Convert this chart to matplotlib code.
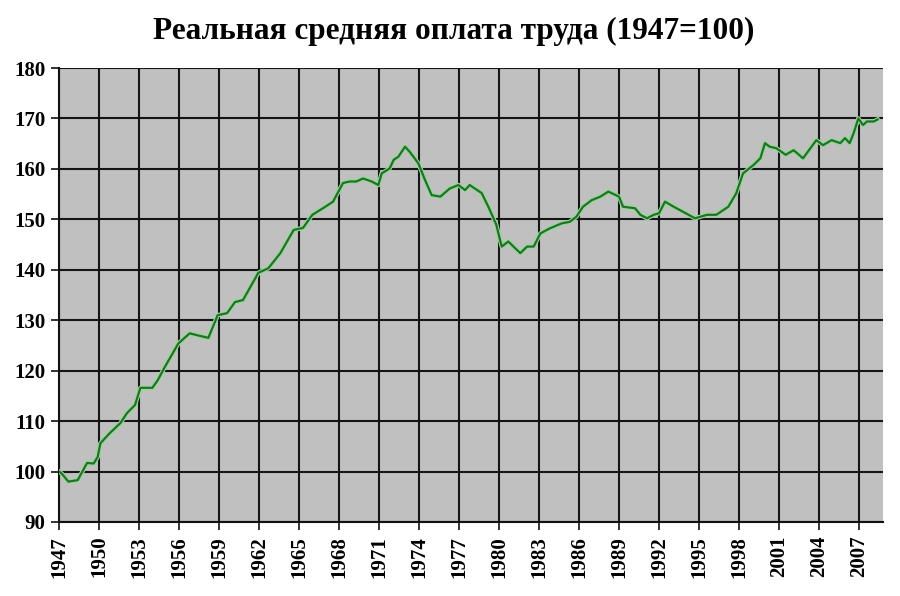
import matplotlib.pyplot as plt

# approximate readings
years = [1947.0, 1947.2, 1947.7, 1948.4, 1949.1, 1949.6, 1949.9, 1950.1, 1950.8,
         1951.6, 1952.1, 1952.7, 1953.1, 1954.0, 1954.4, 1954.95, 1955.95, 1956.8,
         1957.4, 1958.2, 1958.9, 1959.6, 1960.2, 1960.8, 1961.95, 1962.7, 1963.6,
         1964.6, 1965.3, 1966.0, 1966.8, 1967.55, 1968.3, 1968.8, 1969.3, 1969.8,
         1970.45, 1970.95, 1971.2, 1971.8, 1972.1, 1972.45, 1972.95, 1973.3,
         1973.95, 1974.45, 1974.95, 1975.6, 1976.3, 1976.95, 1977.45, 1977.8,
         1978.7, 1979.2, 1979.8, 1980.2, 1980.7, 1981.2, 1981.6, 1982.1, 1982.6,
         1983.1, 1983.8, 1984.7, 1985.3, 1985.8, 1986.3, 1986.95, 1987.6, 1988.2,
         1989.0, 1989.3, 1990.2, 1990.6, 1991.1, 1991.6, 1992.0, 1992.45, 1993.1,
         1993.8, 1994.7, 1995.6, 1996.3, 1997.2, 1997.8, 1998.3, 1999.1, 1999.6,
         1999.95, 2000.3, 2000.8, 2001.5, 2002.1, 2002.8, 2003.8, 2004.3, 2004.95,
         2005.6, 2005.95, 2006.3, 2006.6, 2006.95, 2007.3, 2007.6, 2008.1, 2008.4]
wages = [100.0, 99.6, 98.0, 98.3, 101.7, 101.6, 102.9, 105.6, 107.6,
         109.6, 111.6, 113.2, 116.6, 116.6, 118.1, 120.8, 125.4, 127.4,
         127.0, 126.5, 131.0, 131.4, 133.6, 134.0, 139.4, 140.3, 143.3,
         147.9, 148.3, 150.9, 152.2, 153.5, 157.2, 157.5, 157.5, 158.1,
         157.5, 156.8, 159.1, 160.1, 161.8, 162.4, 164.4, 163.4,
         161.1, 157.8, 154.8, 154.5, 156.1, 156.8, 155.8, 156.8,
         155.2, 152.5, 148.9, 144.6, 145.6, 144.3, 143.3, 144.6, 144.6,
         147.2, 148.2, 149.2, 149.5, 150.5, 152.5, 153.8, 154.5, 155.5,
         154.5, 152.5, 152.2, 150.9, 150.2, 150.9, 151.2, 153.5, 152.5,
         151.5, 150.2, 150.9, 150.9, 152.5, 155.2, 159.1, 160.8, 162.1,
         165.1, 164.4, 164.1, 162.8, 163.7, 162.1, 165.7, 164.7, 165.7,
         165.1, 166.1, 165.1, 167.1, 170.0, 168.7, 169.4, 169.4, 169.8]

tick_years = list(range(1947, 2008, 3))
y_ticks = list(range(90, 181, 10))

serif = ['Liberation Serif', 'DejaVu Serif']

fig = plt.figure(figsize=(9, 5.96), dpi=100)
ax = fig.add_axes([0.0656, 0.1242, 0.9155, 0.7617])
ax.set_facecolor('#c0c0c0')

# light halo under the line, like the original
ax.plot(years, wages, color='#8fdc8f', linewidth=3.2, zorder=3, solid_joinstyle='round')
ax.plot(years, wages, color='#22702a', linewidth=1.6, zorder=4, solid_joinstyle='round')

ax.set_xlim(1947, 2008.8)
ax.set_ylim(90, 180)
ax.set_xticks(tick_years)
ax.set_yticks(y_ticks)
ax.set_xticklabels([str(y) for y in tick_years], rotation=90, family=serif,
                   fontweight='bold', fontsize=15)
ax.set_yticklabels([str(v) for v in y_ticks], family=serif,
                   fontweight='bold', fontsize=15)
ax.tick_params(axis='both', length=6, width=1.2, color='#111111', pad=4)

ax.grid(True, color='#151515', linewidth=1.5, zorder=1)
ax.set_axisbelow(True)
for side in ['top', 'right']:
    ax.spines[side].set_visible(False)
for side in ['left', 'bottom']:
    ax.spines[side].set_color('#111111')
    ax.spines[side].set_linewidth(1.5)

fig.text(0.504, 0.947, 'Реальная средняя оплата труда (1947=100)', ha='center',
         va='center', family=serif, fontweight='bold', fontsize=22.5)

fig.savefig('out.png', dpi=100)
